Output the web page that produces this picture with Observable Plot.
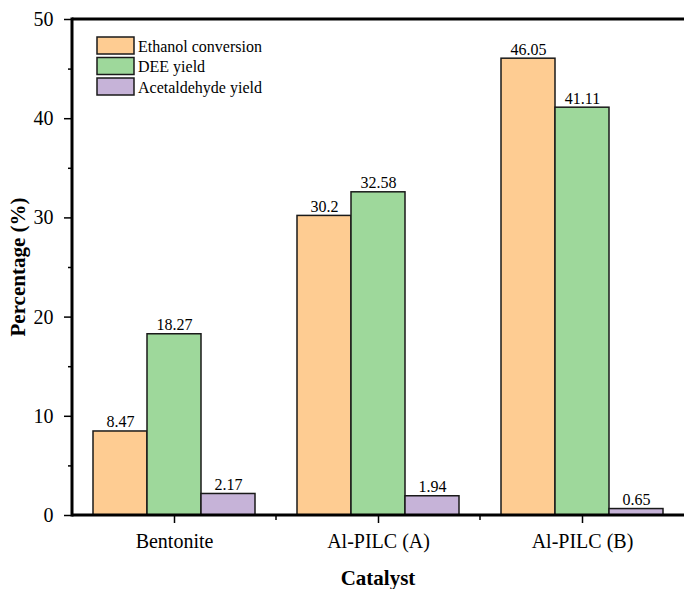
<!DOCTYPE html>
<html>
<head>
<meta charset="utf-8">
<script src="https://cdn.jsdelivr.net/npm/d3@7"></script>
<script src="https://cdn.jsdelivr.net/npm/@observablehq/plot@0.6"></script>
<style>
  html, body { margin: 0; padding: 0; background: #fff; }
  #chart { width: 684px; height: 589px; }
  #chart svg text { font-family: "Liberation Serif", serif !important; }
</style>
</head>
<body>
<div id="chart"></div>
<script>
// Catalysts on the x axis
const categories = ["Bentonite", "Al-PILC (A)", "Al-PILC (B)"];
// Series shown in each group
const series = ["Ethanol conversion", "DEE yield", "Acetaldehyde yield"];
// Values (%) per catalyst
const ethanolConversion = [8.47, 30.2, 46.05];
const deeYield = [18.27, 32.58, 41.11];
const acetaldehydeYield = [2.17, 1.94, 0.65];
// Axis ticks
const yTicks = [0, 10, 20, 30, 40, 50];
const yMinorTicks = [5, 15, 25, 35, 45];
const seriesColors = ["#FECC92", "#9ED89B", "#C6B3D8"];

const seriesValues = [ethanolConversion, deeYield, acetaldehydeYield];
const data = categories.flatMap((catalyst, i) =>
  series.map((s, j) => ({catalyst, series: s, value: seriesValues[j][i]}))
);

const W = 684, H = 589;
const font = "Liberation Serif, serif";

const chart = Plot.plot({
  width: W,
  height: H,
  marginLeft: 72,
  marginRight: 0,
  marginTop: 19,
  marginBottom: 74,
  style: {fontFamily: font, fontSize: "20px", color: "#000", background: "#fff", overflow: "visible"},
  fx: {domain: categories, padding: 0, axis: null, label: null},
  x: {domain: series, paddingInner: 0, paddingOuter: 0.366, axis: null, label: null},
  y: {domain: [0, 50], axis: null, label: null},
  color: {domain: series, range: seriesColors},
  marks: [
    Plot.barY(data, {
      fx: "catalyst", x: "series", y: "value",
      fill: "series", stroke: "#1a1a1a", strokeWidth: 1.5
    }),
    Plot.text(data, {
      fx: "catalyst", x: "series", y: "value",
      text: d => String(d.value),
      dy: -4, lineAnchor: "bottom", fontSize: 16, fill: "#000"
    }),
    Plot.axisY(yTicks, {
      tickSize: 8, tickPadding: 11, tickFormat: d => String(d),
      label: null, fontSize: 20, stroke: "#000", strokeWidth: 1.5
    }),
    Plot.axisY(yMinorTicks, {
      tickSize: 4, tickFormat: () => "", label: null, stroke: "#000", strokeWidth: 1.5
    }),
    Plot.axisFx({
      anchor: "bottom", tickSize: 8, tickPadding: 10,
      label: null, fontSize: 20, stroke: "#000", strokeWidth: 1.5
    })
  ]
});

document.getElementById("chart").appendChild(chart);

// Frame lines, minor x ticks, axis titles and legend
const svg = d3.select(chart);
const fx = chart.scale("fx");
const y = chart.scale("y");
const y0 = y.apply(0), y50 = y.apply(50);
const left = fx.apply(categories[0]);
const step = fx.bandwidth;
const right = left + step * categories.length;

const g = svg.append("g").attr("text-anchor", "start");
// minor ticks at the boundaries between catalyst groups
categories.forEach((c, i) => {
  if (i === 0) return;
  const x = fx.apply(c);
  g.append("line").attr("x1", x).attr("x2", x).attr("y1", y0).attr("y2", y0 + 5)
    .attr("stroke", "#000").attr("stroke-width", 1.5);
});
// axis lines
g.append("line").attr("x1", left).attr("x2", right).attr("y1", y0).attr("y2", y0)
  .attr("stroke", "#000").attr("stroke-width", 3);
g.append("line").attr("x1", left).attr("x2", right).attr("y1", y50).attr("y2", y50)
  .attr("stroke", "#000").attr("stroke-width", 3);
g.append("line").attr("x1", left).attr("x2", left).attr("y1", y50 - 1.5).attr("y2", y0 + 1.5)
  .attr("stroke", "#000").attr("stroke-width", 3);

// axis titles
g.append("text")
  .attr("x", (left + W) / 2).attr("y", 585)
  .style("text-anchor", "middle")
  .style("font-size", "21px").style("font-weight", "bold")
  .text("Catalyst");
g.append("text")
  .attr("transform", `translate(25,${(y0 + y50) / 2}) rotate(-90)`)
  .style("text-anchor", "middle")
  .style("font-size", "21px").style("font-weight", "bold")
  .text("Percentage (%)");

// legend
const lg = g.append("g").attr("transform", "translate(97,37)");
series.forEach((s, i) => {
  const row = lg.append("g").attr("transform", `translate(0,${i * 20.5})`);
  row.append("rect").attr("width", 37).attr("height", 17)
    .attr("fill", seriesColors[i]).attr("stroke", "#1a1a1a").attr("stroke-width", 1.5);
  row.append("text").attr("x", 41).attr("y", 14.5)
    .style("text-anchor", "start")
    .style("font-size", "16px").text(s);
});
</script>
</body>
</html>
